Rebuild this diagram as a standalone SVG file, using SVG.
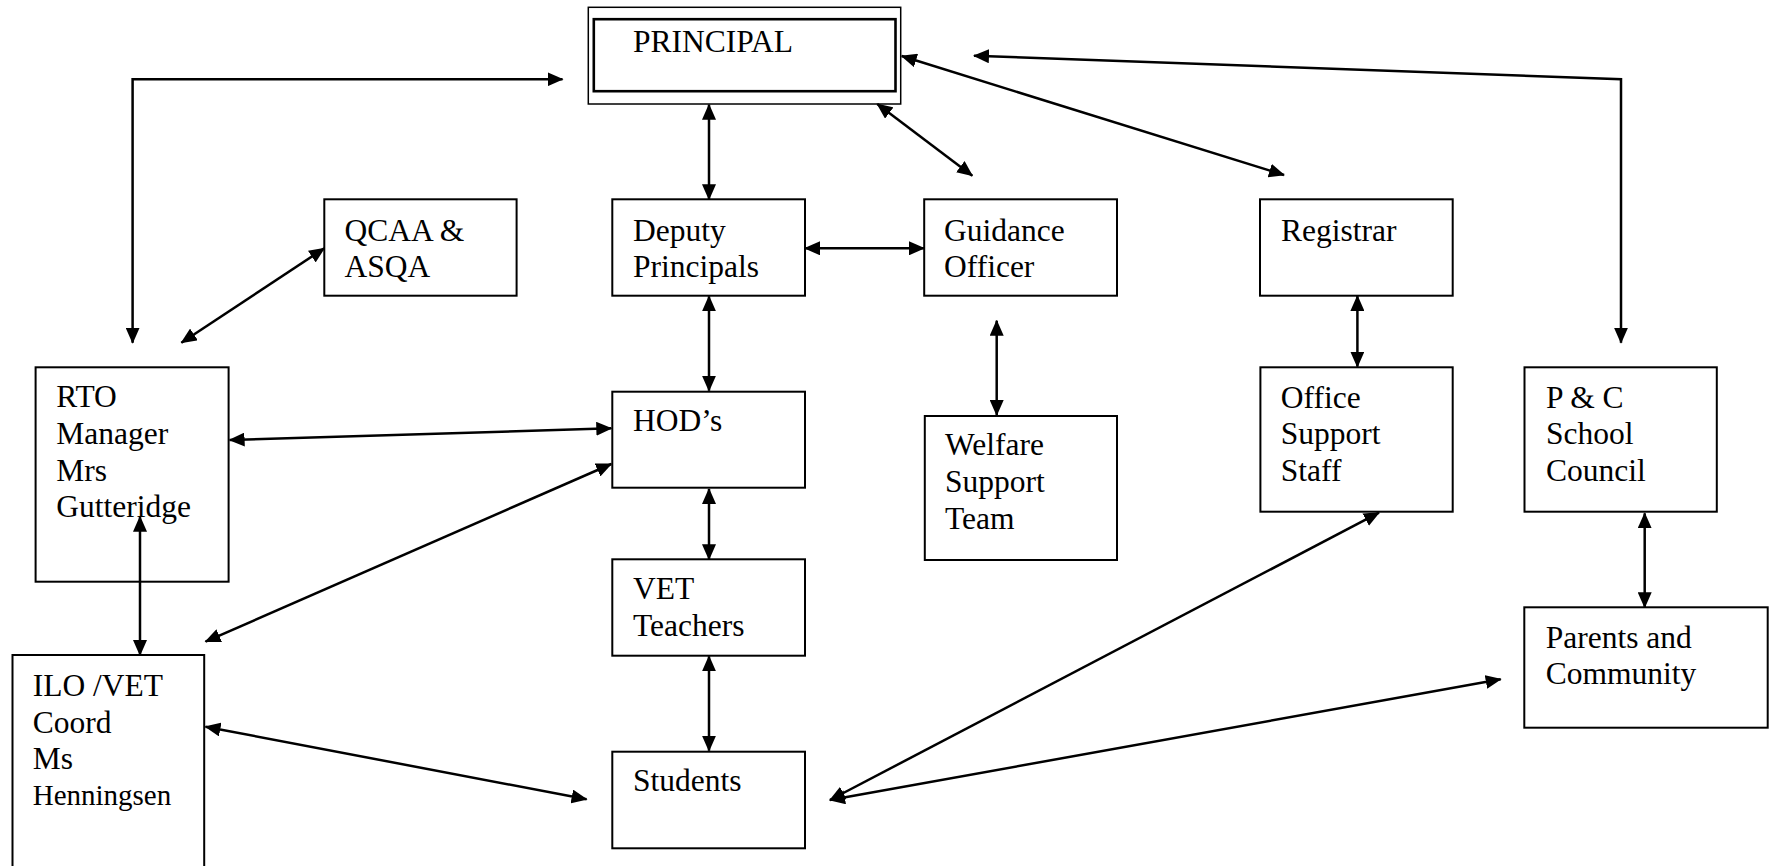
<svg xmlns="http://www.w3.org/2000/svg" width="1769" height="866" viewBox="0 0 1769 866">
<style>
.box{fill:#fff;stroke:#000;stroke-width:2}
.t{font-family:"Liberation Serif","Times New Roman",serif;font-size:31.5px;fill:#000}
.c{fill:none;stroke:#000;stroke-width:2.5;marker-start:url(#ah);marker-end:url(#ah)}
</style>
<defs>
<marker id="ah" viewBox="0 0 16 14" refX="15" refY="7" markerWidth="16" markerHeight="14" markerUnits="userSpaceOnUse" orient="auto-start-reverse">
<path d="M0,0 L16,7 L0,14 Z" fill="#000"/>
</marker>
</defs>
<rect width="1769" height="866" fill="#fff"/>
<g id="principal">
<rect x="588.3" y="7.3" width="312.4" height="96.7" fill="#fff" stroke="#000" stroke-width="1.5"/>
<rect x="593.8" y="19.2" width="301.7" height="72" fill="none" stroke="#000" stroke-width="2.6"/>
<text class="t" x="633" y="52.3">PRINCIPAL</text>
</g>
<g id="qcaa">
<rect class="box" x="324.3" y="199.3" width="192.3" height="96.4"/>
<text class="t" x="344.4" y="240.7">QCAA &amp;</text>
<text class="t" x="344.4" y="276.7">ASQA</text>
</g>
<g id="deputy">
<rect class="box" x="612.3" y="199.3" width="192.7" height="96.4"/>
<text class="t" x="633" y="240.7">Deputy</text>
<text class="t" x="633" y="276.7">Principals</text>
</g>
<g id="guidance">
<rect class="box" x="924.2" y="199.3" width="192.8" height="96.4"/>
<text class="t" x="944" y="240.7">Guidance</text>
<text class="t" x="944" y="276.7">Officer</text>
</g>
<g id="registrar">
<rect class="box" x="1260" y="199.3" width="192.7" height="96.4"/>
<text class="t" x="1281" y="240.7">Registrar</text>
</g>
<g id="rto">
<rect class="box" x="35.6" y="367.3" width="193" height="214.4"/>
<text class="t" x="56.3" y="406.7">RTO</text>
<text class="t" x="56.3" y="443.7">Manager</text>
<text class="t" x="56.3" y="480.7">Mrs</text>
<text class="t" x="56.3" y="516.7">Gutteridge</text>
</g>
<g id="hod">
<rect class="box" x="612.3" y="391.7" width="192.7" height="96"/>
<text class="t" x="633" y="431">HOD’s</text>
</g>
<g id="welfare">
<rect class="box" x="924.8" y="416" width="192.2" height="144"/>
<text class="t" x="945" y="455">Welfare</text>
<text class="t" x="945" y="491.7">Support</text>
<text class="t" x="945" y="528.5">Team</text>
</g>
<g id="office">
<rect class="box" x="1260.4" y="367.3" width="192.3" height="144.4"/>
<text class="t" x="1280.8" y="407.7">Office</text>
<text class="t" x="1280.8" y="444.3">Support</text>
<text class="t" x="1280.8" y="480.7">Staff</text>
</g>
<g id="pandc">
<rect class="box" x="1524.5" y="367.3" width="192.3" height="144.4"/>
<text class="t" x="1546" y="407.7">P &amp; C</text>
<text class="t" x="1546" y="444.3">School</text>
<text class="t" x="1546" y="480.7">Council</text>
</g>
<g id="vet">
<rect class="box" x="612.3" y="559.3" width="192.7" height="96.4"/>
<text class="t" x="633" y="599.3">VET</text>
<text class="t" x="633" y="636">Teachers</text>
</g>
<g id="parents">
<rect class="box" x="1524.3" y="607.3" width="243.4" height="120.4"/>
<text class="t" x="1545.7" y="647.7">Parents and</text>
<text class="t" x="1545.7" y="684.3">Community</text>
</g>
<g id="ilo">
<rect class="box" x="12.5" y="655" width="191.7" height="240"/>
<text class="t" x="32.7" y="695.7">ILO /VET</text>
<text class="t" x="32.7" y="732.7">Coord</text>
<text class="t" x="32.7" y="769">Ms</text>
<text class="t" x="32.7" y="805" style="font-size:29px">Henningsen</text>
</g>
<g id="students">
<rect class="box" x="612.3" y="751.7" width="192.7" height="96.6"/>
<text class="t" x="633" y="791">Students</text>
</g>
<g id="connectors">
<path class="c" d="M132.6,342.7 V79.3 H562.5"/>
<path class="c" d="M324.3,248.3 L181.4,342.7"/>
<path class="c" d="M709,104.7 V199.3"/>
<path class="c" d="M877.3,104 L972.3,175.7"/>
<path class="c" d="M901.7,56 L1284,175"/>
<path class="c" d="M974,55.7 L1621,79.3 V342.7"/>
<path class="c" d="M805,248.3 H924"/>
<path class="c" d="M709,296.3 V390.7"/>
<path class="c" d="M996.7,320.7 V415"/>
<path class="c" d="M1357.4,296 V366.7"/>
<path class="c" d="M229.6,440 L611.3,428.3"/>
<path class="c" d="M611.3,464 L205.5,641.7"/>
<path class="c" d="M140,516.7 V655"/>
<path class="c" d="M709,489 V559.3"/>
<path class="c" d="M709,656.3 V750.7"/>
<path class="c" d="M205.5,726.7 L586.6,799.3"/>
<path class="c" d="M830,800 L1379,512.7"/>
<path class="c" d="M830,800 L1500.7,679.3"/>
<path class="c" d="M1644.7,513.3 V607.3"/>
</g>
</svg>
